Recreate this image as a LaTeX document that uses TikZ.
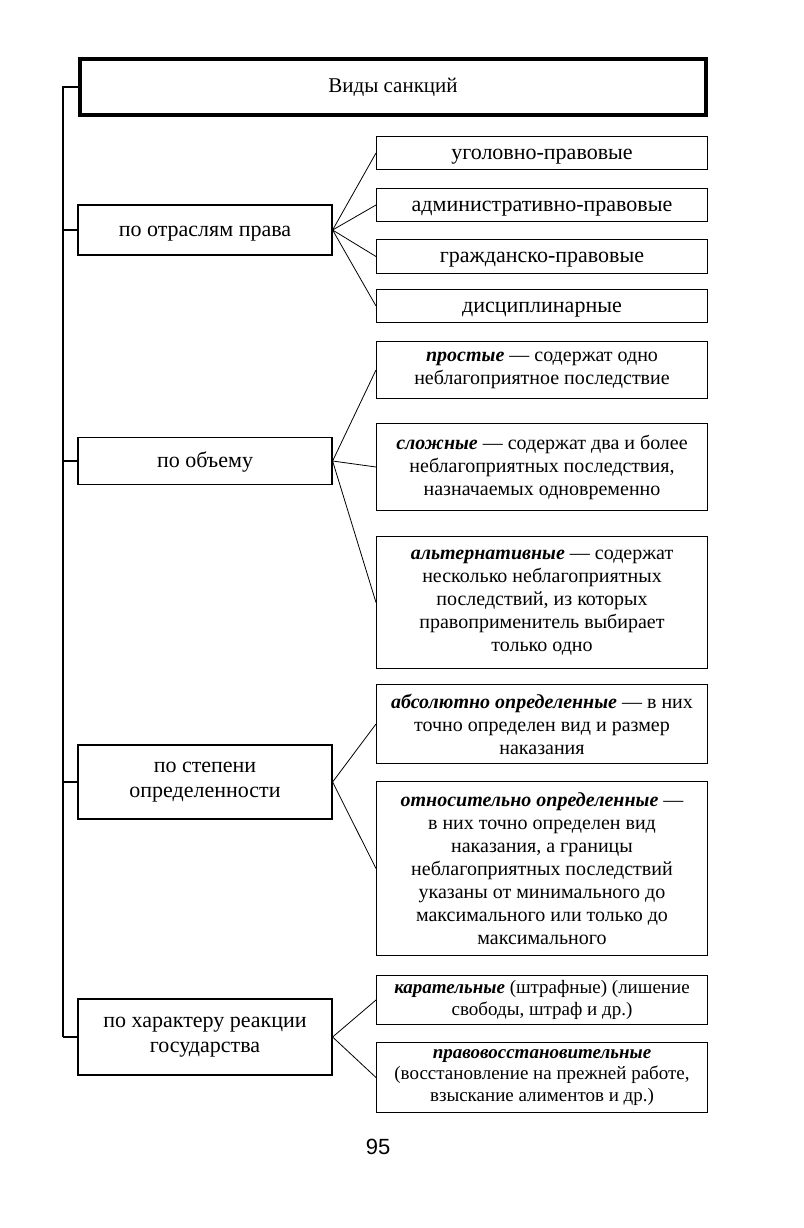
\documentclass[tikz,border=0pt]{standalone}
\usepackage{fontspec}
\setmainfont{Liberation Serif}
\newfontfamily\numfont{Liberation Sans}
\usetikzlibrary{positioning}
\newcommand{\term}[1]{\textbf{\textit{#1}}}
\tikzset{
	titlebox/.style={draw=black, line width=3.5pt, minimum width=626pt, minimum height=56pt, text centered, font=\fontsize{21}{24}\selectfont},
	catbox/.style  ={draw=black, line width=1.2pt, minimum width=254pt, inner ysep=2pt, align=center, font=\fontsize{22}{24.5}\selectfont},
	itembox/.style ={draw=black, line width=1pt, minimum width=331pt, inner ysep=2pt, anchor=north west, align=center, font=\fontsize{20}{23}\selectfont},
	branchitem/.style={itembox, font=\fontsize{22}{24}\selectfont},
	smallitem/.style={itembox, font=\fontsize{19}{21.5}\selectfont},
	oneline/.style ={text height=16pt, text depth=4pt},
	fanline/.style ={line width=0.8pt},
	spine/.style   ={line width=2.5pt},
}
\begin{document}
\begin{tikzpicture}[x=1pt,y=-1pt]
	\useasboundingbox (0,0) rectangle (803,1228);
	\node[titlebox, oneline] (title) at (393,87) {Виды санкций};
	% left column
	\node[catbox, oneline, minimum height=50pt] (cBranch) at (205,230) {по отраслям права};
	\node[catbox, oneline, minimum height=47pt] (cVolume) at (205,461) {по объему};
	\node[catbox, minimum height=74pt] (cDegree) at (205,782) {по степени\\определенности};
	\node[catbox, minimum height=76pt] (cReact) at (205,1037) {по характеру реакции\\государства};
	% right column
	\node[branchitem, oneline, minimum height=33pt] (iCrim) at (376,136) {уголовно-правовые};
	\node[branchitem, oneline, minimum height=33pt] (iAdmin) at (376,188) {административно-правовые};
	\node[branchitem, oneline, minimum height=34pt] (iCivil) at (376,239) {гражданско-правовые};
	\node[branchitem, oneline, minimum height=33pt] (iDisc) at (376,289) {дисциплинарные};
	\node[itembox, minimum height=57pt] (iSimple) at (376,341) {\term{простые} — содержат одно\\неблагоприятное последствие};
	\node[itembox, minimum height=87pt] (iComplex) at (376,423) {\term{сложные} — содержат два и более\\неблагоприятных последствия,\\назначаемых одновременно};
	\node[itembox, minimum height=132pt] (iAlt) at (376,536) {\term{альтернативные} — содержат\\несколько неблагоприятных\\последствий, из которых\\правоприменитель выбирает\\только одно};
	\node[itembox, minimum height=79pt] (iAbs) at (376,684) {\term{абсолютно определенные} — в них\\точно определен вид и размер\\наказания};
	\node[itembox, minimum height=174pt] (iRel) at (376,781) {\term{относительно определенные} —\\в них точно определен вид\\наказания, а границы\\неблагоприятных последствий\\указаны от минимального до\\максимального или только до\\максимального};
	\node[smallitem, minimum height=49pt] (iPunish) at (376,975) {\term{карательные} (штрафные) (лишение\\свободы, штраф и др.)};
	\node[smallitem, minimum height=70pt] (iRestore) at (376,1042) {\term{правовосстановительные}\\(восстановление на прежней работе,\\взыскание алиментов и др.)};
	% spine
	\coordinate (sTop) at (63,87);
	\draw[spine] (title.west) -- (sTop) -- (sTop |- cReact.west);
	\foreach \c in {cBranch, cVolume, cDegree, cReact} {
		\draw[spine] (\c.west) -- (\c.west -| sTop);
	}
	% fans
	\foreach \c/\i in {cBranch/iCrim, cBranch/iAdmin, cBranch/iCivil, cBranch/iDisc, cVolume/iSimple, cVolume/iComplex, cVolume/iAlt, cDegree/iAbs, cDegree/iRel, cReact/iPunish, cReact/iRestore} {
		\draw[fanline] (\c.east) -- (\i.west);
	}
	\node[font=\numfont\fontsize{22}{24}\selectfont] (pageNo) at (378,1147) {95};
\end{tikzpicture}
\end{document}
